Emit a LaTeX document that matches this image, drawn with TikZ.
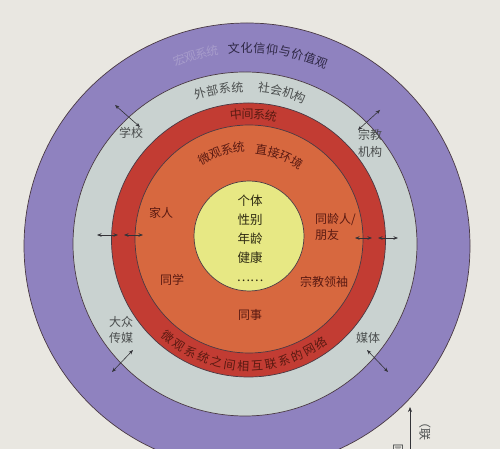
\documentclass[tikz,border=0pt]{standalone}
\usepackage{fontspec}
\newfontfamily\cjk{Noto Sans CJK SC}
\usetikzlibrary{arrows.meta}
\definecolor{bg}{HTML}{E9E7E1}
\definecolor{purp}{HTML}{8F82BF}
\definecolor{grayband}{HTML}{C9D2D0}
\definecolor{redband}{HTML}{C23C33}
\definecolor{orangeband}{HTML}{D7683F}
\definecolor{yellowc}{HTML}{E7E884}
\definecolor{edgec}{HTML}{4A3A44}
\definecolor{arrowc}{HTML}{333338}
\definecolor{txtgray}{HTML}{4A4D4D}
\definecolor{txtpurp}{HTML}{2E2744}
\definecolor{txtred}{HTML}{5A1A12}
\definecolor{txtyel}{HTML}{2E2A12}
\definecolor{faint}{HTML}{A79CCB}
\tikzset{
  lbl/.style={font=\cjk\fontsize{12}{14}\selectfont, inner sep=0pt},
  dbl/.style={draw=arrowc, line width=0.6pt, {Stealth[length=4.5pt,width=3.5pt]}-{Stealth[length=4.5pt,width=3.5pt]}},
  sgl/.style={draw=arrowc, line width=0.6pt, -{Stealth[length=5pt,width=4pt]}},
  ring/.style={draw=edgec, line width=0.7pt},
}
% #1 options, #2 name prefix, #3 centre, #4 radius, #5 start angle, #6 step, #7 rotation offset, #8 characters
\newcommand\arcchars[8]{%
  \foreach \ch [count=\i from 0] in {#8} {%
    \pgfmathsetmacro\ang{#5+\i*(#6)}%
    \pgfmathsetmacro\rot{\ang+(#7)}%
    \node[lbl,#1,rotate=\rot] (#2\i) at ([shift={(\ang:#4)}]#3) {\ch};
  }}
\begin{document}
\begin{tikzpicture}[x=1pt,y=1pt]
\useasboundingbox (0,0) rectangle (500,449);
\fill[bg] (0,0) rectangle (500,449);
% centres
\coordinate (Cp) at (247,203);
\coordinate (Cg) at (245,205);
\coordinate (Cr) at (248.5,209);
\coordinate (Co) at (249,210);
\coordinate (Cy) at (249,213);
% rings
\fill[purp,ring] (Cp) circle[radius=223];
\fill[grayband,ring] (Cg) circle[radius=172];
\fill[redband,ring] (Cr) circle[radius=137];
\fill[orangeband,ring] (Co) circle[radius=114];
\fill[yellowc,ring] (Cy) circle[radius=55];
% arc texts
\arcchars{text=faint}{mac}{Cp}{198}{110}{-3.3}{-90}{宏,观,系,统}
\arcchars{text=txtpurp}{cul}{Cp}{198}{93.8}{-3.71}{-90}{文,化,信,仰,与,价,值,观}
\arcchars{text=txtgray}{exo}{Cg}{157}{106.6}{-4.6}{-90}{外,部,系,统}
\arcchars{text=txtgray}{soc}{Cg}{157}{83}{-4.5}{-90}{社,会,机,构}
\arcchars{text=txtred}{mes}{Cr}{126}{95.7}{-5.3}{-90}{中,间,系,统}
\arcchars{text=txtred}{mic}{Co}{92}{119}{-7.5}{-90}{微,观,系,统}
\arcchars{text=txtred}{dir}{Co}{90}{82}{-8}{-90}{直,接,环,境}
\arcchars{text=txtred}{net}{Cr}{126}{230.3}{6.23}{90}{微,观,系,统,之,间,相,互,联,系,的,网,络}
% centre
\node[lbl,text=txtyel,align=center,font=\cjk\fontsize{12.5}{19}\selectfont] (indiv) at (250,211) {个体\\性别\\年龄\\健康\\……};
% microsystem labels
\node[lbl,text=txtred] (fam) at (161,236) {家人};
\node[lbl,text=txtred] (cls) at (172,169) {同学};
\node[lbl,text=txtred,align=left,anchor=west,font=\cjk\fontsize{12}{16}\selectfont] (peer) at (315,222) {同龄人/\\朋友};
\node[lbl,text=txtred] (rel) at (324,167) {宗教领袖};
\node[lbl,text=txtred] (col) at (250,134) {同事};
% exosystem labels
\node[lbl,text=txtgray] (sch) at (131,316) {学校};
\node[lbl,text=txtgray,align=center,font=\cjk\fontsize{12}{17}\selectfont] (relorg) at (370,306) {宗教\\机构};
\node[lbl,text=txtgray,align=center,font=\cjk\fontsize{12}{16}\selectfont] (mass) at (121,119) {大众\\传媒};
\node[lbl,text=txtgray] (med) at (368,111) {媒体};
% arrows
\coordinate (a1) at (115,344); \coordinate (a2) at (140,322);
\coordinate (b1) at (358,319); \coordinate (b2) at (380,339);
\coordinate (c1) at (112,77);  \coordinate (c2) at (133,99);
\coordinate (d1) at (367,99);  \coordinate (d2) at (388,77);
\coordinate (l1) at (97,214);  \coordinate (l2) at (118,214);
\coordinate (l3) at (124,214); \coordinate (l4) at (143,214);
\coordinate (r1) at (355,211); \coordinate (r2) at (372,211);
\coordinate (r3) at (378,211); \coordinate (r4) at (398,211);
\draw[dbl] (a1) -- (a2);
\draw[dbl] (b1) -- (b2);
\draw[dbl] (c1) -- (c2);
\draw[dbl] (d1) -- (d2);
\draw[dbl] (l1) -- (l2);
\draw[dbl] (l3) -- (l4);
\draw[dbl] (r1) -- (r2);
\draw[dbl] (r3) -- (r4);
% cropped fragment at bottom right
\coordinate (e1) at (410,-5); \coordinate (e2) at (410,42);
\draw[sgl] (e1) -- (e2);
\node[lbl,text=txtgray] (frag1) at (398,-1) {同};
\node[lbl,text=txtgray,rotate=-90,anchor=west] (frag2) at (425,33) {（联};
\end{tikzpicture}
\end{document}
